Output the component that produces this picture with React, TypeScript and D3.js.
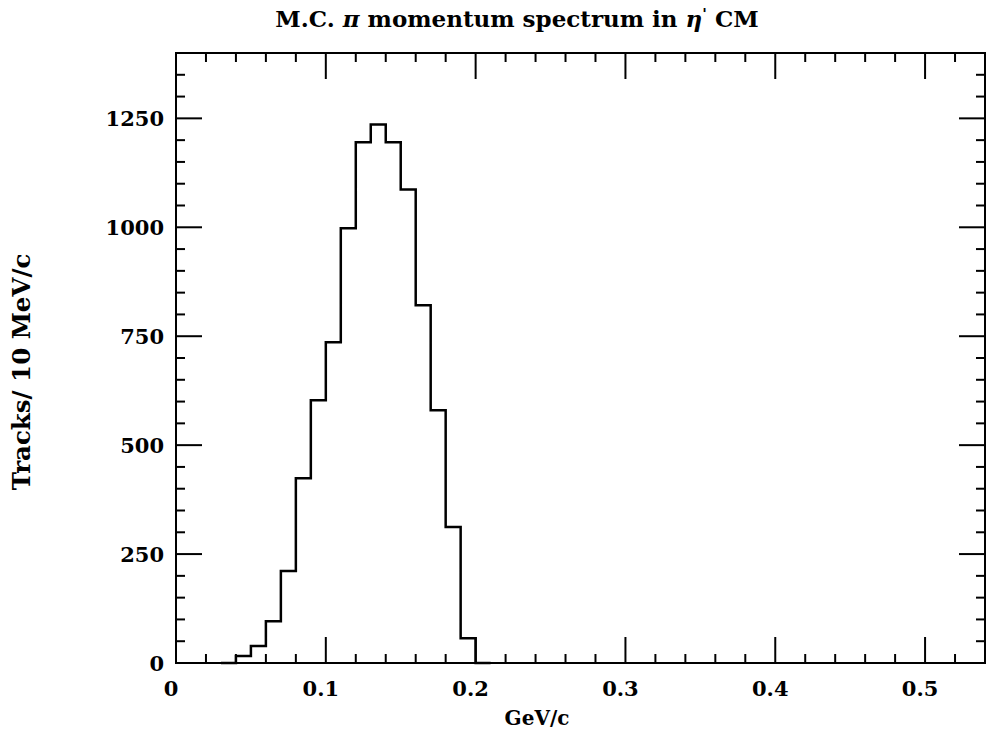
import React from "react";
import * as d3 from "d3";

const binStarts: number[] = [0.04, 0.05, 0.06, 0.07, 0.08, 0.09, 0.10, 0.11, 0.12, 0.13, 0.14, 0.15, 0.16, 0.17, 0.18, 0.19];
const counts: number[] = [16, 39, 96, 211, 424, 603, 736, 998, 1195, 1236, 1195, 1087, 821, 580, 312, 57];
const binWidth = 0.01;
const xMajorTicks: number[] = [0, 0.1, 0.2, 0.3, 0.4, 0.5];
const xTickLabels: string[] = ["0", "0.1", "0.2", "0.3", "0.4", "0.5"];
const yMajorTicks: number[] = [0, 250, 500, 750, 1000, 1250];
const yTickLabels: string[] = ["0", "250", "500", "750", "1000", "1250"];

const W = 986;
const H = 732;
const L = 176, R = 985, T = 53, B = 663;
const FONT = "'DejaVu Serif', serif";

export default function App() {
  const x = d3.scaleLinear().domain([0, 0.54]).range([L, R]);
  const y = d3.scaleLinear().domain([0, 1400]).range([B, T]);

  const xMinor = d3.range(0, 0.5401, 0.02).filter(v => Math.abs(Math.round(v * 10) - v * 10) > 1e-6);
  const yMinor = d3.range(0, 1400.1, 50).filter(v => v % 250 !== 0);

  const pts: [number, number][] = [[0.03, 0]];
  binStarts.forEach((s, i) => {
    pts.push([s, i === 0 ? 0 : counts[i - 1]]);
    pts.push([s, counts[i]]);
  });
  const last = binStarts[binStarts.length - 1] + binWidth;
  pts.push([last, counts[counts.length - 1]]);
  pts.push([last, 0]);
  pts.push([0.21, 0]);
  const line = d3.line<[number, number]>().x(d => x(d[0])).y(d => y(d[1]));

  const majLen = 26, minLen = 9;
  const sw = 2;

  return (
    <svg width={W} height={H} style={{ position: "absolute", left: 0, top: 0, background: "#fff" }}>
      <rect x={0} y={0} width={W} height={H} fill="#fff" />
      <text x={517} y={27} textAnchor="middle" fontFamily={FONT} fontWeight="bold" fontSize={23}>
        M.C. <tspan fontStyle="italic">π</tspan> momentum spectrum in <tspan fontStyle="italic">η</tspan><tspan dy={-8} fontSize={15}>'</tspan><tspan dy={8}> CM</tspan>
      </text>
      <rect x={L} y={T} width={R - L} height={B - T} fill="none" stroke="#000" strokeWidth={sw} />
      {xMajorTicks.map(v => (
        <g key={"xm" + v}>
          <line x1={x(v)} x2={x(v)} y1={B} y2={B - majLen} stroke="#000" strokeWidth={sw} />
          <line x1={x(v)} x2={x(v)} y1={T} y2={T + majLen} stroke="#000" strokeWidth={sw} />
        </g>
      ))}
      {xMinor.map(v => (
        <g key={"xn" + v}>
          <line x1={x(v)} x2={x(v)} y1={B} y2={B - minLen} stroke="#000" strokeWidth={sw} />
          <line x1={x(v)} x2={x(v)} y1={T} y2={T + minLen} stroke="#000" strokeWidth={sw} />
        </g>
      ))}
      {yMajorTicks.map(v => (
        <g key={"ym" + v}>
          <line x1={L} x2={L + majLen} y1={y(v)} y2={y(v)} stroke="#000" strokeWidth={sw} />
          <line x1={R} x2={R - majLen} y1={y(v)} y2={y(v)} stroke="#000" strokeWidth={sw} />
        </g>
      ))}
      {yMinor.map(v => (
        <g key={"yn" + v}>
          <line x1={L} x2={L + minLen} y1={y(v)} y2={y(v)} stroke="#000" strokeWidth={sw} />
          <line x1={R} x2={R - minLen} y1={y(v)} y2={y(v)} stroke="#000" strokeWidth={sw} />
        </g>
      ))}
      {xMajorTicks.map((v, i) => (
        <text key={"xl" + v} x={x(v) - 5} y={696} textAnchor="middle" fontFamily={FONT} fontWeight="bold" fontSize={21}>
          {xTickLabels[i]}
        </text>
      ))}
      {yMajorTicks.map((v, i) => (
        <text key={"yl" + v} x={164} y={y(v) + 8} textAnchor="end" fontFamily={FONT} fontWeight="bold" fontSize={21}>
          {yTickLabels[i]}
        </text>
      ))}
      <text x={537} y={725} textAnchor="middle" fontFamily={FONT} fontWeight="bold" fontSize={20}>GeV/c</text>
      <text transform={`translate(30,372) rotate(-90)`} textAnchor="middle" fontFamily={FONT} fontWeight="bold" fontSize={24.5}>
        Tracks/ 10 MeV/c
      </text>
      <path d={line(pts) || ""} fill="none" stroke="#000" strokeWidth={2.5} />
    </svg>
  );
}
